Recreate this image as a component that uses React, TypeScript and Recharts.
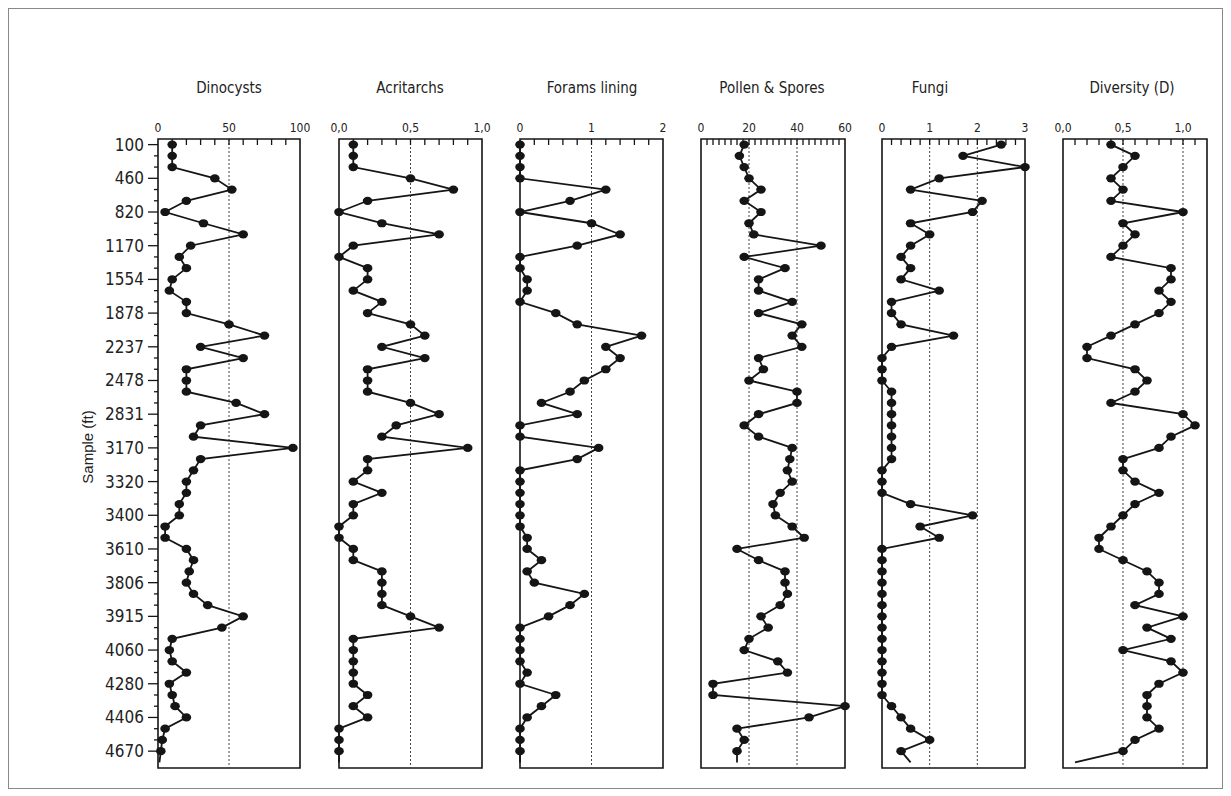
// Palynology log — six vertical strip charts sharing one depth axis
import React from 'react';
import { LineChart, Line, XAxis, YAxis, ReferenceLine, ReferenceArea } from 'recharts';

// sample depths shown on the left axis (every third sample is labelled)
const depthLabels = [
  '100', '460', '820', '1170', '1554', '1878', '2237', '2478', '2831', '3170',
  '3320', '3400', '3610', '3806', '3915', '4060', '4280', '4406', '4670',
];

const dinocysts = [
  10, 10, 10, 40, 52, 20, 5, 32, 60, 23, 15, 20, 10, 8, 20, 20, 50, 75, 30, 60,
  20, 20, 20, 55, 75, 30, 25, 95, 30, 25, 20, 20, 15, 15, 5, 5, 20, 25, 22, 20,
  25, 35, 60, 45, 10, 8, 10, 20, 8, 10, 12, 20, 5, 3, 2, 1,
];
const acritarchs = [
  0.1, 0.1, 0.1, 0.5, 0.8, 0.2, 0, 0.3, 0.7, 0.1, 0, 0.2, 0.2, 0.1, 0.3, 0.2, 0.5, 0.6, 0.3, 0.6,
  0.2, 0.2, 0.2, 0.5, 0.7, 0.4, 0.3, 0.9, 0.2, 0.2, 0.1, 0.3, 0.1, 0.1, 0, 0, 0.1, 0.1, 0.3, 0.3,
  0.3, 0.3, 0.5, 0.7, 0.1, 0.1, 0.1, 0.1, 0.1, 0.2, 0.1, 0.2, 0, 0, 0, 0,
];
const forams = [
  0, 0, 0, 0, 1.2, 0.7, 0, 1.0, 1.4, 0.8, 0, 0, 0.1, 0.1, 0, 0.5, 0.8, 1.7, 1.2, 1.4,
  1.2, 0.9, 0.7, 0.3, 0.8, 0, 0, 1.1, 0.8, 0, 0, 0, 0, 0, 0, 0.1, 0.1, 0.3, 0.1, 0.2,
  0.9, 0.7, 0.4, 0, 0, 0, 0, 0.1, 0, 0.5, 0.3, 0.1, 0, 0, 0, 0,
];
const pollen = [
  18, 16, 18, 20, 25, 18, 25, 20, 22, 50, 18, 35, 24, 24, 38, 24, 42, 38, 42, 24,
  26, 20, 40, 40, 24, 18, 24, 38, 37, 36, 38, 33, 30, 31, 38, 43, 15, 24, 35, 35,
  36, 33, 25, 28, 20, 18, 32, 36, 5, 5, 60, 45, 15, 18, 15, 15,
];
const fungi = [
  2.5, 1.7, 3.0, 1.2, 0.6, 2.1, 1.9, 0.6, 1.0, 0.6, 0.4, 0.6, 0.4, 1.2, 0.2, 0.2, 0.4, 1.5, 0.2, 0,
  0, 0, 0.2, 0.2, 0.2, 0.2, 0.2, 0.2, 0.2, 0, 0, 0, 0.6, 1.9, 0.8, 1.2, 0, 0, 0, 0,
  0, 0, 0, 0, 0, 0, 0, 0, 0, 0, 0.2, 0.4, 0.6, 1.0, 0.4, 0.6,
];
const diversity = [
  0.4, 0.6, 0.5, 0.4, 0.5, 0.4, 1.0, 0.5, 0.6, 0.5, 0.4, 0.9, 0.9, 0.8, 0.9, 0.8, 0.6, 0.4, 0.2, 0.2,
  0.6, 0.7, 0.6, 0.4, 1.0, 1.1, 0.9, 0.8, 0.5, 0.5, 0.6, 0.8, 0.6, 0.5, 0.4, 0.3, 0.3, 0.5, 0.7, 0.8,
  0.8, 0.6, 1.0, 0.7, 0.9, 0.5, 0.9, 1.0, 0.8, 0.7, 0.7, 0.7, 0.8, 0.6, 0.5, 0.1,
];

const dinoTickLabels = ['0', '50', '100'];
const acritTickLabels = ['0,0', '0,5', '1,0'];
const foramTickLabels = ['0', '1', '2'];
const pollenTickLabels = ['0', '20', '40', '60'];
const fungiTickLabels = ['0', '1', '2', '3'];
const divTickLabels = ['0,0', '0,5', '1,0'];

const rows = dinocysts.map((_, i) => ({
  idx: i,
  dino: dinocysts[i],
  acrit: acritarchs[i],
  forams: forams[i],
  pollen: pollen[i],
  fungi: fungi[i],
  div: diversity[i],
}));
const LAST = rows.length - 1;

const NARROW = "'Liberation Sans Narrow', 'Arial Narrow', 'DejaVu Sans Condensed', sans-serif";
const INK = '#151515';

type Panel = {
  key: string;
  title: string;
  titleX: number;
  left: number; // page x of plot left edge
  width: number;
  domain: [number, number];
  majors: number[];
  labels: string[];
  step: number;
  grid: number[];
};

const panels: Panel[] = [
  { key: 'dino', title: 'Dinocysts', titleX: 229, left: 158, width: 142, domain: [0, 100], majors: [0, 50, 100], labels: dinoTickLabels, step: 10, grid: [50] },
  { key: 'acrit', title: 'Acritarchs', titleX: 410, left: 339, width: 143, domain: [0, 1], majors: [0, 0.5, 1], labels: acritTickLabels, step: 0.1, grid: [0.5] },
  { key: 'forams', title: 'Forams lining', titleX: 592, left: 520, width: 143, domain: [0, 2], majors: [0, 1, 2], labels: foramTickLabels, step: 0.2, grid: [1] },
  { key: 'pollen', title: 'Pollen & Spores', titleX: 772, left: 701, width: 144, domain: [0, 60], majors: [0, 20, 40, 60], labels: pollenTickLabels, step: 2.5, grid: [20, 40] },
  { key: 'fungi', title: 'Fungi', titleX: 930, left: 882, width: 143, domain: [0, 3], majors: [0, 1, 2, 3], labels: fungiTickLabels, step: 0.2, grid: [1, 2] },
  { key: 'div', title: 'Diversity (D)', titleX: 1132, left: 1063, width: 144, domain: [0, 1.2], majors: [0, 0.5, 1], labels: divTickLabels, step: 0.1, grid: [0.5, 1] },
];

const AXIS_H = 131; // space above plot (page y 8 -> 139)
const PLOT_H = 629;
const Y_AXIS_W = 60;

const renderDot = (props: any) => {
  const { cx, cy, index } = props;
  if (index === LAST || cx == null || cy == null) return <g key={`d${index}`} />;
  return <ellipse key={`d${index}`} cx={cx} cy={cy} rx={4.8} ry={4.1} fill={INK} />;
};

function tickValues(p: Panel) {
  const out: number[] = [];
  const n = Math.round((p.domain[1] - p.domain[0]) / p.step);
  for (let i = 0; i <= n; i++) out.push(+(p.domain[0] + i * p.step).toFixed(4));
  return out;
}

function StripChart({ p, withDepth }: { p: Panel; withDepth: boolean }) {
  const yw = withDepth ? Y_AXIS_W : 0;
  const margin = { top: 0, right: 10, bottom: 10, left: 10 };
  const chartW = margin.left + yw + p.width + margin.right;
  const chartLeft = p.left - 8 - margin.left - yw;

  const topTick = (props: any) => {
    const { x, y, payload } = props;
    const v = payload.value as number;
    const mi = p.majors.findIndex((m) => Math.abs(m - v) < 1e-6);
    const edge = Math.abs(v - p.domain[0]) < 1e-6 || Math.abs(v - p.domain[1]) < 1e-6;
    return (
      <g key={`t${v}`}>
        {!edge && <line x1={x} x2={x} y1={y} y2={y + 6} stroke={INK} strokeWidth={1.3} />}
        {mi >= 0 && (
          <text x={x} y={y - 7} textAnchor="middle" fontSize={12} fontFamily={NARROW} fill="#222">
            {p.labels[mi]}
          </text>
        )}
      </g>
    );
  };

  const leftTick = (props: any) => {
    const { x, y, payload } = props;
    const i = payload.value as number;
    const major = i % 3 === 0;
    return (
      <g key={`y${i}`}>
        <line x1={x - (major ? 10 : 4)} x2={x} y1={y} y2={y} stroke={INK} strokeWidth={1.3} />
        {major && (
          <text x={x - 14} y={y} dy={6} textAnchor="end" fontSize={17} fontFamily={NARROW} fill="#222">
            {depthLabels[i / 3]}
          </text>
        )}
      </g>
    );
  };

  return (
    <div style={{ position: 'absolute', left: chartLeft, top: 0 }}>
      <LineChart
        width={chartW}
        height={AXIS_H + PLOT_H + margin.bottom}
        data={rows}
        layout="vertical"
        margin={margin}
      >
        <XAxis
          type="number"
          orientation="top"
          domain={p.domain}
          ticks={tickValues(p)}
          interval={0}
          height={AXIS_H}
          tickSize={0}
          tickMargin={0}
          axisLine={false}
          tickLine={false}
          tick={topTick}
        />
        <YAxis
          type="number"
          dataKey="idx"
          domain={[-0.5, LAST + 0.5]}
          hide={!withDepth}
          width={yw}
          ticks={rows.slice(0, LAST).map((r) => r.idx)}
          interval={0}
          tickSize={0}
          tickMargin={0}
          axisLine={false}
          tickLine={false}
          tick={leftTick}
        />
        {p.grid.map((g) => (
          <ReferenceLine key={g} x={g} stroke="#444" strokeWidth={1} strokeDasharray="2 2" />
        ))}
        <ReferenceArea
          x1={p.domain[0]}
          x2={p.domain[1]}
          y1={-0.5}
          y2={LAST + 0.5}
          fill="none"
          fillOpacity={0}
          stroke={INK}
          strokeWidth={1.6}
          strokeOpacity={1}
          ifOverflow="visible"
        />
        <Line
          type="linear"
          dataKey={p.key}
          stroke={INK}
          strokeWidth={1.8}
          dot={renderDot}
          activeDot={false}
          isAnimationActive={false}
        />
      </LineChart>
    </div>
  );
}

export default function App() {
  return (
    <div style={{ position: 'relative', width: 1215, height: 781, background: '#fff' }}>
      <div
        style={{
          position: 'absolute',
          left: 0,
          top: 0,
          width: 1215,
          height: 781,
          border: '1px solid #888',
          boxSizing: 'border-box',
        }}
      />
      {panels.map((p) => (
        <div
          key={`title-${p.key}`}
          style={{
            position: 'absolute',
            left: p.titleX - 8 - 100,
            top: 70,
            width: 200,
            textAlign: 'center',
            fontFamily: NARROW,
            fontSize: 15,
            lineHeight: '20px',
            color: '#222',
          }}
        >
          {p.title}
        </div>
      ))}
      <div
        style={{
          position: 'absolute',
          left: 80 - 60,
          top: 439 - 10,
          width: 120,
          height: 20,
          lineHeight: '20px',
          textAlign: 'center',
          transform: 'rotate(-90deg)',
          fontFamily: "'Liberation Sans', Arial, sans-serif",
          fontSize: 15,
          color: '#222',
        }}
      >
        Sample (ft)
      </div>
      {panels.map((p, i) => (
        <StripChart key={p.key} p={p} withDepth={i === 0} />
      ))}
    </div>
  );
}
